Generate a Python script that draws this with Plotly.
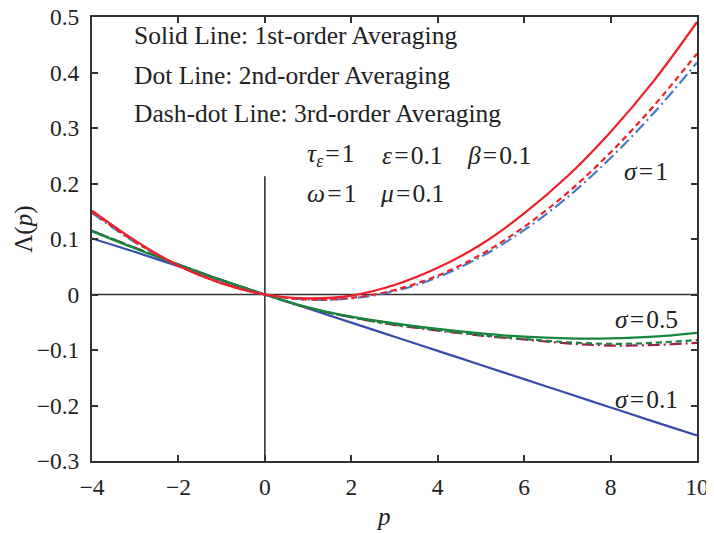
import plotly.graph_objects as go

# ---------------- data ----------------
p = [-4, -3, -2, -1, 0, 1, 2, 3, 4, 5, 6, 7, 8, 9, 10]

# sigma = 1
s1_first = [0.151, 0.097, 0.052, 0.020, 0.0, -0.007, -0.002, 0.017, 0.048, 0.090, 0.146, 0.213, 0.293, 0.385, 0.491]
s1_second = [0.149, 0.095, 0.052, 0.021, 0.0, -0.009, -0.006, 0.008, 0.034, 0.072, 0.122, 0.183, 0.256, 0.340, 0.434]
s1_third = [0.147, 0.094, 0.052, 0.021, 0.0, -0.009, -0.007, 0.006, 0.031, 0.068, 0.116, 0.175, 0.246, 0.327, 0.418]

# sigma = 0.5
s05_first = [0.114, 0.083, 0.054, 0.026, 0.0, -0.023, -0.040, -0.052, -0.062, -0.070, -0.076, -0.079, -0.079, -0.076, -0.069]
s05_second = [0.115, 0.084, 0.054, 0.026, 0.0, -0.024, -0.041, -0.054, -0.064, -0.073, -0.080, -0.086, -0.089, -0.087, -0.082]
s05_third = [0.115, 0.084, 0.054, 0.026, 0.0, -0.024, -0.041, -0.055, -0.065, -0.074, -0.081, -0.088, -0.092, -0.091, -0.087]

# sigma = 0.1
s01_first = [0.101, 0.0765, 0.0510, 0.0254, 0.0, -0.0253, -0.0506, -0.076, -0.1015, -0.127, -0.1525, -0.178, -0.2035, -0.229, -0.254]

x_ticks = [-4, -2, 0, 2, 4, 6, 8, 10]
y_ticks = [-0.3, -0.2, -0.1, 0, 0.1, 0.2, 0.3, 0.4, 0.5]
x_range = [-4, 10]
y_range = [-0.3, 0.5]
vline_top = 0.213

# ---------------- styles ----------------
RED = "rgb(236,32,38)"
LBLUE = "rgb(66,126,200)"
GREEN = "rgb(22,134,60)"
CRIMSON = "rgb(163,30,74)"
DBLUE = "rgb(56,76,170)"
AX = "#333333"
FONT = "Liberation Serif"
LW = 2.2

series = [
    (s01_first, DBLUE, "solid"),
    (s05_third, CRIMSON, "12px,4px,2px,4px"),
    (s05_second, GREEN, "6px,4px"),
    (s05_first, GREEN, "solid"),
    (s1_third, LBLUE, "12px,4px,2px,4px"),
    (s1_second, RED, "6px,4px"),
    (s1_first, RED, "solid"),
]

fig = go.Figure()
for ys, col, dash in series:
    fig.add_trace(go.Scatter(x=p, y=ys, mode="lines",
                             line=dict(color=col, width=LW, dash=dash, shape="spline", smoothing=1.0),
                             showlegend=False, hoverinfo="skip"))

# reference lines
fig.add_shape(type="line", xref="x", yref="y", x0=x_range[0], x1=x_range[1], y0=0, y1=0,
              line=dict(color=AX, width=1.6), layer="below")
fig.add_shape(type="line", xref="x", yref="y", x0=0, x1=0, y0=y_range[0], y1=vline_top,
              line=dict(color=AX, width=1.6), layer="below")

axis_common = dict(showline=True, linecolor=AX, linewidth=2, mirror="ticks",
                   ticks="inside", ticklen=6, tickwidth=1.5, tickcolor=AX,
                   showgrid=False, zeroline=False, automargin=False,
                   ticklabeloverflow="allow",
                   tickfont=dict(family=FONT, size=23.5, color="#222"))

fig.update_xaxes(range=x_range, tickvals=x_ticks, ticklabelstandoff=4, **axis_common)
fig.update_yaxes(range=y_range, tickvals=y_ticks, ticklabelstandoff=6, **axis_common)

ann = []
def txt(x, y, s, size=25.5, xanchor="left"):
    ann.append(dict(xref="paper", yref="paper", x=x, y=y, text=s, showarrow=False,
                    xanchor=xanchor, yanchor="middle", font=dict(family=FONT, size=size, color="#222")))

txt(0.0656, 0.9575, "Solid Line: 1st-order Averaging")
txt(0.0656, 0.869, "Dot Line: 2nd-order Averaging")
txt(0.0656, 0.783, "Dash-dot Line: 3rd-order Averaging")
eq = "\u200a=\u200a"
txt(0.352, 0.689, "<i>τ</i><sub><i>ε</i></sub>" + eq + "1")
txt(0.476, 0.689, "<i>ε</i>" + eq + "0.1")
txt(0.6165, 0.689, "<i>β</i>" + eq + "0.1")
txt(0.352, 0.603, "<i>ω</i>" + eq + "1")
txt(0.473, 0.603, "<i>μ</i>" + eq + "0.1")
txt(0.8755, 0.6517, "<i>σ</i>" + eq + "1")
txt(0.861, 0.318, "<i>σ</i>" + eq + "0.5")
txt(0.861, 0.138, "<i>σ</i>" + eq + "0.1")

# axis titles (plot area spans page px 92..697 horizontally, 17..461.5 vertically)
ann.append(dict(xref="paper", yref="paper", x=(383 - 92) / 605, y=(461.5 - 517) / 444.5,
                text="<i>p</i>", showarrow=False, xanchor="center", yanchor="middle",
                font=dict(family=FONT, size=25, color="#222")))
ann.append(dict(xref="paper", yref="paper", x=(24 - 92) / 605, y=(461.5 - 230) / 444.5,
                text="Λ(<i>p</i>)", showarrow=False, xanchor="center", yanchor="middle", textangle=-90,
                font=dict(family=FONT, size=25, color="#222")))

# the page body adds an 8px offset, so the figure is 8px smaller and shifted margins compensate
fig.update_layout(width=706, height=525, margin=dict(l=84, r=17, t=9, b=71.5, autoexpand=False),
                  paper_bgcolor="white", plot_bgcolor="white", annotations=ann)

fig.write_html("out.html")
